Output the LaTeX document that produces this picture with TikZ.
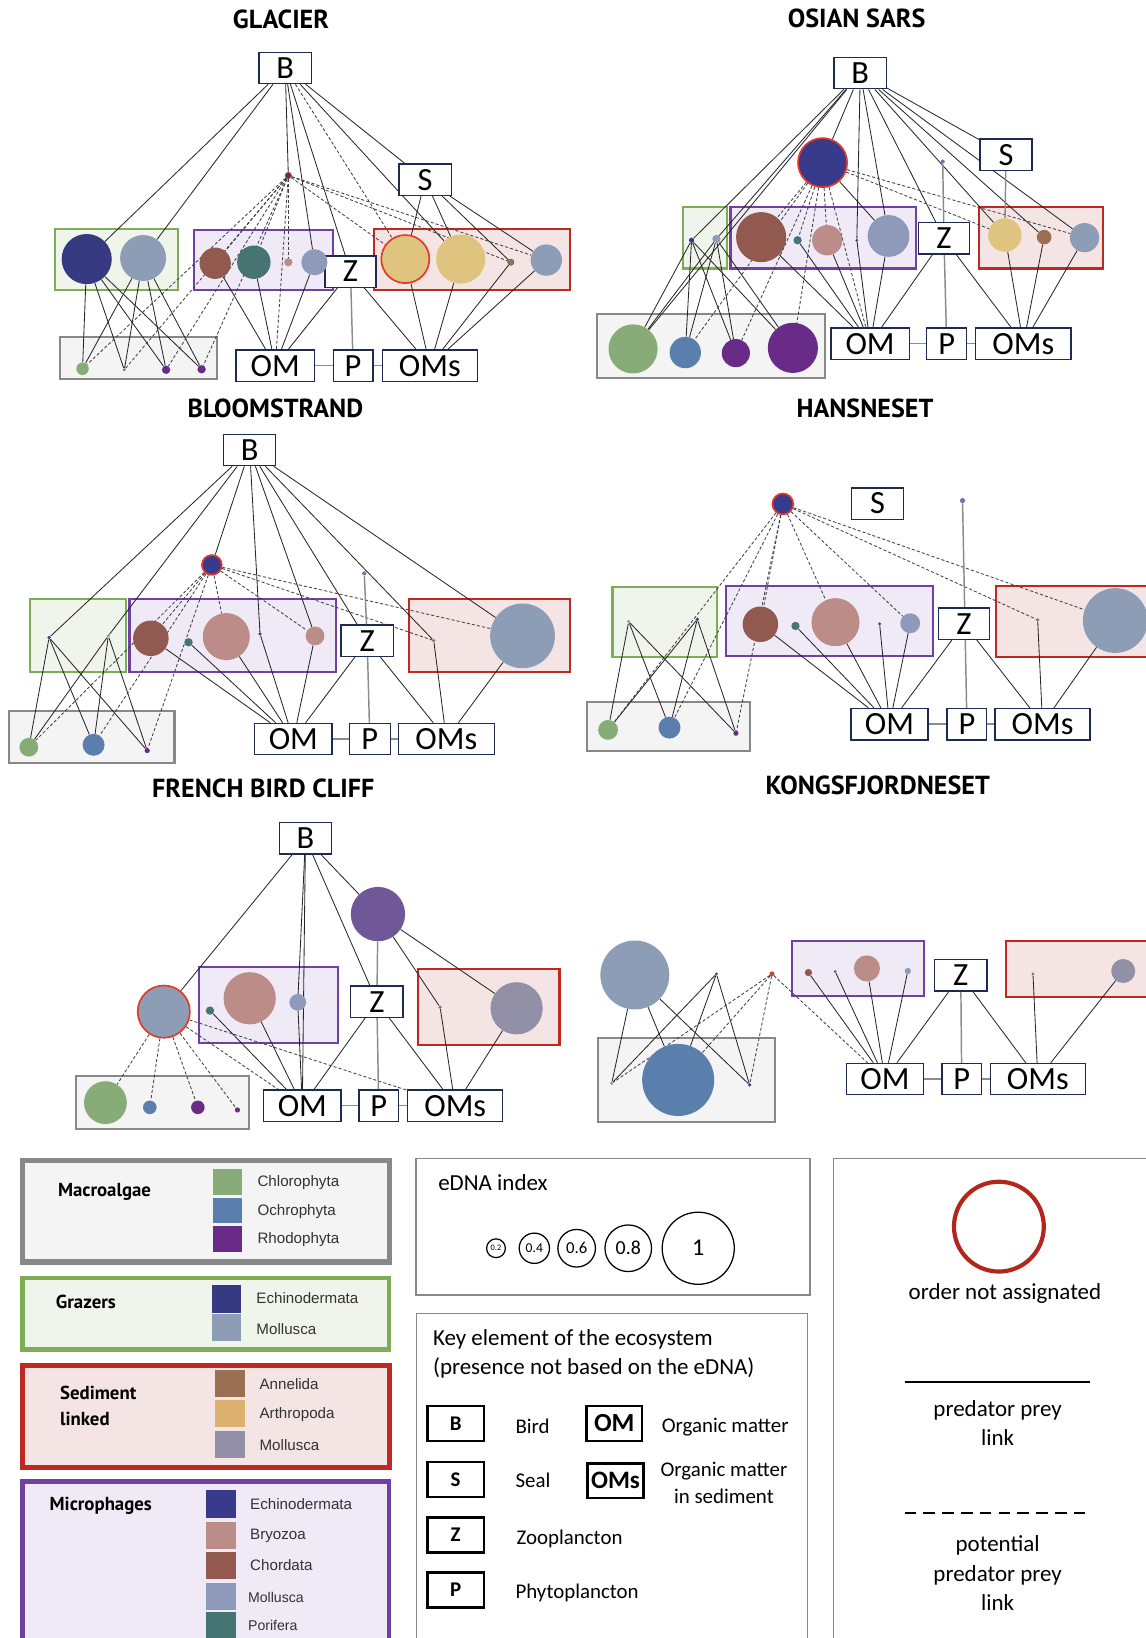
\documentclass[tikz,border=0pt]{standalone}
\usepackage{fontspec}
\setmainfont{Carlito}
\newfontfamily\titlefont{PT Sans}
\newfontfamily\arialfont{Liberation Sans}

\definecolor{chloro}{HTML}{88AC78}
\definecolor{ochro}{HTML}{5A7FAD}
\definecolor{rhodo}{HTML}{682C88}
\definecolor{gechino}{HTML}{363A80}
\definecolor{gmollu}{HTML}{8E9DB6}
\definecolor{annel}{HTML}{9A7053}
\definecolor{arthro}{HTML}{DEC47E}
\definecolor{larthro}{HTML}{DDB26E}
\definecolor{smollu}{HTML}{9290A6}
\definecolor{mechino}{HTML}{383A8C}
\definecolor{bryo}{HTML}{BC8C88}
\definecolor{chord}{HTML}{925A4E}
\definecolor{mmollu}{HTML}{8D9ABA}
\definecolor{porif}{HTML}{467472}
\definecolor{fbpurple}{HTML}{705898}
\definecolor{dotpurple}{HTML}{7F6DB5}
\definecolor{navy}{HTML}{1E2B4F}
\definecolor{ringred}{HTML}{E5392B}
\definecolor{legred}{HTML}{B3261C}
\definecolor{grayline}{HTML}{888888}
\definecolor{grayfill}{HTML}{F4F4F4}
\definecolor{grnline}{HTML}{7DAE55}
\definecolor{grnfill}{HTML}{F0F5EC}
\definecolor{redline}{HTML}{BE2A22}
\definecolor{redfill}{HTML}{F5E4E4}
\definecolor{purline}{HTML}{7040A2}
\definecolor{purfill}{HTML}{EFEAF5}

\pgfdeclarelayer{grp}
\pgfdeclarelayer{edges}
\pgfsetlayers{grp,edges,main}

\tikzset{
  ttl/.style={font=\titlefont\bfseries\fontsize{25}{25}\selectfont},
  key/.style={draw=navy, line width=1.3pt, fill=white, inner sep=0pt,
    minimum height=30pt, font=\fontsize{31}{31}\selectfont},
  kb/.style={key, minimum width=50pt},
  kom/.style={key, minimum width=75pt},
  kp/.style={key, minimum width=38pt},
  koms/.style={key, minimum width=91pt},
  sp/.style={circle, inner sep=0pt, minimum size=#1pt},
  ring/.style={draw=ringred, line width=1.6pt},
  tring/.style={draw=ringred, line width=0.8pt},
  link/.style={line width=0.8pt, black!85},
  plink/.style={line width=0.8pt, black!75, dash pattern=on 3pt off 2pt},
  glink/.style={line width=1.4pt, black!45},
  algae/.style={draw=grayline, fill=grayfill, line width=2pt},
  grazer/.style={draw=grnline, fill=grnfill, line width=2pt},
  sedim/.style={draw=redline, fill=redfill, line width=2pt},
  microph/.style={draw=purline, fill=purfill, line width=2pt},
  grpname/.style={font=\titlefont\bfseries\fontsize{18}{25}\selectfont, anchor=west},
  sname/.style={font=\arialfont\fontsize{14.5}{14.5}\selectfont, anchor=west, text=black!80},
  ltxt/.style={font=\fontsize{20}{25}\selectfont},
  lkey/.style={draw=black, line width=2.5pt, inner sep=0pt, minimum width=54pt,
    minimum height=33.5pt, font=\bfseries\fontsize{20}{20}\selectfont},
  ednac/.style={circle, draw=black, line width=1.2pt, inner sep=0pt}
}

\begin{document}
\begin{tikzpicture}[x=1pt,y=-1pt]
\useasboundingbox (0,0) rectangle (1097,1568);

% ---------------- GLACIER
\node[ttl] (tA) at (269,19) {GLACIER};
\begin{pgfonlayer}{grp}
  \draw[grazer] (53,219) rectangle (170,278);
  \draw[microph] (186,220) rectangle (319,278);
  \draw[sedim] (358,219) rectangle (546,278);
  \draw[algae] (57,323) rectangle (208,363);
\end{pgfonlayer}
\node[kb] (aB) at (273,65) {B};
\node[kb] (aS) at (407,172) {S};
\node[kb, minimum width=49pt] (aZ) at (335.5,260) {Z};
\node[kom] (aOM) at (263.5,350) {OM};
\node[kp] (aP) at (338,350) {P};
\node[koms] (aOMs) at (411.5,350) {OMs};
\node[sp=6, fill=gechino, tring] (aX) at (276,168) {};
\node[sp=48, fill=gechino] (aG1) at (83,248) {};
\node[sp=44, fill=gmollu] (aG2) at (137,247) {};
\node[sp=30, fill=chord] (aM1) at (206,252) {};
\node[sp=32, fill=porif] (aM2) at (243,251) {};
\node[sp=8, fill=bryo] (aM3) at (276,251) {};
\node[sp=25, fill=mmollu] (aM4) at (301,251) {};
\node[sp=46, fill=arthro, ring] (aS1) at (388,248) {};
\node[sp=47, fill=arthro] (aS2) at (441,248) {};
\node[sp=6, fill=annel, draw=black!70, line width=0.4pt] (aS3) at (489,251) {};
\node[sp=30, fill=gmollu] (aS4) at (523,249) {};
\node[sp=12, fill=chloro] (aA1) at (79,353) {};
\node[sp=3, fill=ochro] (aA2) at (119,354) {};
\node[sp=8, fill=rhodo] (aA3) at (159,354) {};
\node[sp=8, fill=rhodo] (aA4) at (193,353.5) {};
\begin{pgfonlayer}{edges}
  \foreach \u/\v in {aB/aG1, aB/aG2, aB/aX, aB/aM4, aB/aZ, aB/aS2, aB/aS,
      aS/aS1, aS/aS2, aS/aS3, aS/aS4,
      aG1/aA1, aG1/aA2, aG1/aA3, aG1/aA4, aG2/aA1, aG2/aA2, aG2/aA3, aG2/aA4,
      aM1/aOM, aM2/aOM, aM4/aOM, aZ/aOM, aZ/aOMs,
      aS1/aOMs, aS2/aOMs, aS3/aOMs, aS4/aOMs}
    \draw[link] (\u) -- (\v);
  \foreach \u/\v in {aB/aS1, aX/aA1, aX/aA2, aX/aA3, aX/aA4, aX/aM1, aX/aM2,
      aX/aM3, aX/aOM, aX/aS1, aX/aS3, aX/aS4}
    \draw[plink] (\u) -- (\v);
  \foreach \u/\v in {aOM/aP, aP/aOMs, aZ/aP}
    \draw[glink] (\u) -- (\v);
\end{pgfonlayer}

% ---------------- OSIAN SARS
\node[ttl] (tB) at (820,17.5) {OSIAN SARS};
\begin{pgfonlayer}{grp}
  \draw[grazer] (653.7,197.8) rectangle (696.2,257);
  \draw[microph] (699.3,198.4) rectangle (876.5,257);
  \draw[sedim] (937,198) rectangle (1056.2,257);
  \draw[algae] (571.8,301) rectangle (790.1,362);
\end{pgfonlayer}
\node[kb] (bB) at (823.5,70) {B};
\node[kb] (bS) at (963,148) {S};
\node[kb, minimum width=49pt] (bZ) at (903.6,228) {Z};
\node[kom] (bOM) at (832.9,329) {OM};
\node[kp] (bP) at (906.2,329) {P};
\node[koms] (bOMs) at (979.6,329) {OMs};
\node[sp=47, fill=mechino, ring] (bX) at (787.4,155.7) {};
\node[sp=4, fill=dotpurple] (bD) at (902.4,154.7) {};
\node[sp=5, fill=gechino] (bG1) at (662,230) {};
\node[sp=8, fill=gmollu] (bG2) at (685.8,228.7) {};
\node[sp=48, fill=chord] (bM1) at (728.6,227) {};
\node[sp=8, fill=porif] (bM2) at (763.5,230) {};
\node[sp=29, fill=bryo] (bM3) at (791.9,230) {};
\node[sp=3, fill=mechino] (bM4) at (820.2,230) {};
\node[sp=40, fill=mmollu] (bM5) at (850.6,225.9) {};
\node[sp=32, fill=arthro] (bS1) at (961.9,225) {};
\node[sp=14, fill=annel] (bS2) at (999.5,227) {};
\node[sp=28, fill=gmollu] (bS3) at (1038.2,227.5) {};
\node[sp=47, fill=chloro] (bA1) at (606,334) {};
\node[sp=30, fill=ochro] (bA2) at (656,337.5) {};
\node[sp=27, fill=rhodo] (bA3) at (704.4,338) {};
\node[sp=48, fill=rhodo] (bA4) at (759,333) {};
\begin{pgfonlayer}{edges}
  \foreach \u/\v in {bB/bA1, bB/bG1, bB/bG2, bB/bX, bB/bM4, bB/bM5, bB/bZ,
      bB/bS, bB/bS1, bB/bS2, bB/bS3, bX/bM5,
      bG1/bA1, bG1/bA2, bG1/bA3, bG1/bA4, bG2/bA1, bG2/bA2, bG2/bA3, bG2/bA4,
      bM1/bOM, bM2/bOM, bM3/bOM, bM4/bOM, bM5/bOM, bZ/bOM, bZ/bOMs,
      bS1/bOMs, bS2/bOMs, bS3/bOMs}
    \draw[link] (\u) -- (\v);
  \foreach \u/\v in {bX/bM1, bX/bM2, bX/bM3, bX/bA2, bX/bA3, bX/bA4, bX/bOM,
      bX/bS1, bX/bS3}
    \draw[plink] (\u) -- (\v);
  \foreach \u/\v in {bOM/bP, bP/bOMs, bZ/bP, bD/bZ, bS/bS1}
    \draw[glink] (\u) -- (\v);
\end{pgfonlayer}

% ---------------- BLOOMSTRAND
\node[ttl] (tC) at (263.7,390.8) {BLOOMSTRAND};
\begin{pgfonlayer}{grp}
  \draw[grazer] (28.3,573.6) rectangle (121,643.2);
  \draw[microph] (124,573.6) rectangle (322,643.2);
  \draw[sedim] (391.2,573.6) rectangle (545.2,643.5);
  \draw[algae] (8.9,680.2) rectangle (167,730.6);
\end{pgfonlayer}
\node[kb] (cB) at (239,430.7) {B};
\node[kb] (cZ) at (351.5,613.3) {Z};
\node[kom, minimum width=74pt] (cOM) at (280.8,707.5) {OM};
\node[kp, minimum width=39pt] (cP) at (354,707.5) {P};
\node[koms, minimum width=92pt] (cOMs) at (427.3,707.5) {OMs};
\node[sp=19, fill=mechino, ring] (cX) at (202.8,540.8) {};
\node[sp=4, fill=dotpurple] (cD) at (348.7,548.8) {};
\node[sp=3.5, fill=gechino] (cG1) at (47,610.3) {};
\node[sp=3.5, fill=gmollu] (cG2) at (103.7,608.7) {};
\node[sp=34, fill=chord] (cM1) at (144.4,611) {};
\node[sp=8, fill=porif] (cM2) at (180.5,614.8) {};
\node[sp=45, fill=bryo] (cM3) at (216.6,609.4) {};
\node[sp=3.5, fill=mechino] (cM4) at (248.9,606.8) {};
\node[sp=18, fill=bryo] (cM5) at (301.6,608.7) {};
\node[sp=3.5, fill=annel] (cS1) at (415.2,613.2) {};
\node[sp=62, fill=gmollu] (cS2) at (500.2,608.7) {};
\node[sp=18, fill=chloro] (cA1) at (27.6,715.3) {};
\node[sp=21, fill=ochro] (cA2) at (89.6,713) {};
\node[sp=5, fill=rhodo] (cA3) at (140.9,718.5) {};
\begin{pgfonlayer}{edges}
  \foreach \u/\v in {cB/cG1, cB/cG2, cB/cX, cB/cM4, cB/cM5, cB/cZ, cB/cS1, cB/cS2,
      cG1/cA1, cG1/cA2, cG1/cA3, cG2/cA1, cG2/cA2, cG2/cA3,
      cM1/cOM, cM2/cOM, cM3/cOM, cM4/cOM, cM5/cOM, cZ/cOM, cZ/cOMs,
      cS1/cOMs, cS2/cOMs}
    \draw[link] (\u) -- (\v);
  \foreach \u/\v in {cX/cA1, cX/cA2, cX/cA3, cX/cM1, cX/cM3, cX/cM5, cX/cS1, cX/cS2}
    \draw[plink] (\u) -- (\v);
  \foreach \u/\v in {cOM/cP, cP/cOMs, cZ/cP, cD/cZ}
    \draw[glink] (\u) -- (\v);
\end{pgfonlayer}

% ---------------- HANSNESET
\node[ttl] (tD) at (828,391) {HANSNESET};
\begin{pgfonlayer}{grp}
  \draw[grazer] (586.3,561.5) rectangle (686.5,629);
  \draw[microph] (695.1,560.9) rectangle (893.1,627.9);
  \draw[sedim] (953.6,560.9) rectangle (1105,628.5);
  \draw[algae] (562.1,671.6) rectangle (717.6,718.8);
\end{pgfonlayer}
\node[kb] (dS) at (840,482) {S};
\node[kb, minimum width=49pt] (dZ) at (922.8,597) {Z};
\node[kom, minimum width=74pt] (dOM) at (851.5,693.2) {OM};
\node[kp] (dP) at (925.6,693.2) {P};
\node[koms] (dOMs) at (998,693.2) {OMs};
\node[sp=20, fill=mechino, ring] (dX) at (749.4,482.4) {};
\node[sp=5, fill=dotpurple] (dD) at (921.4,479.2) {};
\node[sp=3.5, fill=gmollu] (dG1) at (601.8,595) {};
\node[sp=3.5, fill=gechino] (dG2) at (667.5,592.8) {};
\node[sp=34, fill=chord] (dM1) at (727.9,597.6) {};
\node[sp=8, fill=porif] (dM2) at (761.5,599.2) {};
\node[sp=46, fill=bryo] (dM3) at (799.8,595.6) {};
\node[sp=3, fill=mechino] (dM4) at (842,597.2) {};
\node[sp=19, fill=mmollu] (dM5) at (871.3,596.6) {};
\node[sp=3.5, fill=annel] (dS1) at (993.3,593.4) {};
\node[sp=62, fill=gmollu] (dS2) at (1067.6,594) {};
\node[sp=19, fill=chloro] (dA1) at (582.1,698.7) {};
\node[sp=21, fill=ochro] (dA2) at (640.9,696.5) {};
\node[sp=5, fill=rhodo] (dA3) at (704.5,701.9) {};
\begin{pgfonlayer}{edges}
  \foreach \u/\v in {dG1/dA1, dG1/dA2, dG1/dA3, dG2/dA1, dG2/dA2, dG2/dA3,
      dM1/dOM, dM2/dOM, dM3/dOM, dM4/dOM, dM5/dOM, dZ/dOM, dZ/dOMs,
      dS1/dOMs, dS2/dOMs}
    \draw[link] (\u) -- (\v);
  \foreach \u/\v in {dX/dA1, dX/dA2, dX/dA3, dX/dM1, dX/dM3, dX/dM5, dX/dS1, dX/dS2}
    \draw[plink] (\u) -- (\v);
  \foreach \u/\v in {dOM/dP, dP/dOMs, dD/dP}
    \draw[glink] (\u) -- (\v);
\end{pgfonlayer}

% ---------------- FRENCH BIRD CLIFF
\node[ttl] (tE) at (252,754.6) {FRENCH BIRD CLIFF};
\begin{pgfonlayer}{grp}
  \draw[microph] (190.5,926) rectangle (323.9,998.7);
  \draw[sedim] (400,927.9) rectangle (535.6,1000.3);
  \draw[algae] (72.6,1029.6) rectangle (238.2,1080.7);
\end{pgfonlayer}
\node[kb] (eB) at (292.4,802.5) {B};
\node[kb] (eZ) at (360.8,958.8) {Z};
\node[kom, minimum width=74pt] (eOM) at (289.4,1058.5) {OM};
\node[kp] (eP) at (362.5,1058.5) {P};
\node[koms] (eOMs) at (435.8,1058.5) {OMs};
\node[sp=50, fill=gmollu, ring] (eX) at (156.8,968.4) {};
\node[sp=52, fill=fbpurple] (eR) at (361.8,875) {};
\node[sp=8, fill=porif] (eM1) at (201,967.4) {};
\node[sp=50, fill=bryo] (eM2) at (239,955.6) {};
\node[sp=16, fill=mmollu] (eM3) at (285,959.5) {};
\node[sp=3.5, fill=annel] (eS1) at (421.3,964.2) {};
\node[sp=50, fill=smollu] (eS2) at (494.5,965.2) {};
\node[sp=41, fill=chloro] (eA1) at (100.9,1055.5) {};
\node[sp=13, fill=ochro] (eA2) at (143.4,1060) {};
\node[sp=13, fill=rhodo] (eA3) at (189.4,1060) {};
\node[sp=5, fill=rhodo] (eA4) at (227.3,1062.5) {};
\begin{pgfonlayer}{edges}
  \foreach \u/\v in {eB/eX, eB/eM3, eB/eOM, eB/eZ, eB/eR, eR/eS1, eR/eS2,
      eM1/eOM, eM2/eOM, eM3/eOM, eZ/eOM, eZ/eOMs, eS1/eOMs, eS2/eOMs}
    \draw[link] (\u) -- (\v);
  \foreach \u/\v in {eX/eA1, eX/eA2, eX/eA3, eX/eA4, eX/eOM, eX/eOMs}
    \draw[plink] (\u) -- (\v);
  \foreach \u/\v in {eOM/eP, eP/eOMs, eZ/eP, eR/eZ}
    \draw[glink] (\u) -- (\v);
\end{pgfonlayer}

% ---------------- KONGSFJORDNESET
\node[ttl] (tF) at (840.2,751.5) {KONGSFJORDNESET};
\begin{pgfonlayer}{grp}
  \draw[algae] (572.5,993.3) rectangle (741.8,1074.3);
  \draw[microph] (758.4,900.4) rectangle (884.5,953.4);
  \draw[sedim] (962.9,900.4) rectangle (1105,954);
\end{pgfonlayer}
\node[kb] (fZ) at (919.7,933.5) {Z};
\node[kom, minimum width=74pt] (fOM) at (847.2,1033) {OM};
\node[kp] (fP) at (920.6,1033) {P};
\node[koms] (fOMs) at (993.5,1033) {OMs};
\node[sp=66, fill=gmollu] (fG1) at (607.7,933.3) {};
\node[sp=3, fill=gechino] (fG2) at (685.8,932.3) {};
\node[sp=4, fill=chord, tring] (fX) at (739,932.3) {};
\node[sp=3.5, fill=chloro] (fA1) at (585.6,1037) {};
\node[sp=69, fill=ochro] (fA2) at (649.2,1033.8) {};
\node[sp=3.5, fill=rhodo] (fA3) at (717.6,1038.5) {};
\node[sp=7, fill=chord] (fM1) at (773.9,931) {};
\node[sp=3, fill=porif] (fM2) at (799.5,930) {};
\node[sp=25, fill=bryo] (fM3) at (829.9,927) {};
\node[sp=6, fill=mmollu] (fM4) at (869,929.5) {};
\node[sp=3, fill=annel] (fS1) at (988.8,932.3) {};
\node[sp=23, fill=smollu] (fS2) at (1075.2,929.5) {};
\begin{pgfonlayer}{edges}
  \foreach \u/\v in {fG1/fA1, fG1/fA2, fG1/fA3, fG2/fA1, fG2/fA2, fG2/fA3,
      fM1/fOM, fM2/fOM, fM3/fOM, fM4/fOM, fZ/fOM, fZ/fOMs, fS1/fOMs, fS2/fOMs}
    \draw[link] (\u) -- (\v);
  \foreach \u/\v in {fX/fA1, fX/fA2, fX/fA3, fX/fOM}
    \draw[plink] (\u) -- (\v);
  \foreach \u/\v in {fOM/fP, fP/fOMs, fZ/fP}
    \draw[glink] (\u) -- (\v);
\end{pgfonlayer}

% ---------------- legend: groups
\draw[algae, line width=5pt] (21.5,1111) rectangle (372.5,1208);
\node[grpname] (lMac) at (52,1141) {Macroalgae};
\fill[chloro] (204,1119.3) rectangle (232,1143.9);
\fill[ochro] (204,1147) rectangle (232,1171);
\fill[rhodo] (204,1174) rectangle (232,1198.4);
\node[sname] (lChl) at (243,1132) {Chlorophyta};
\node[sname] (lOch) at (243,1160) {Ochrophyta};
\node[sname] (lRho) at (243,1187) {Rhodophyta};

\draw[grazer, line width=4.5pt] (21.5,1223.5) rectangle (372.5,1291.8);
\node[grpname] (lGra) at (50,1246) {Grazers};
\fill[gechino] (203,1230) rectangle (231,1256.5);
\fill[gmollu] (203,1258) rectangle (231,1284);
\node[sname] (lGEc) at (242,1243) {Echinodermata};
\node[sname] (lGMo) at (242,1272) {Mollusca};

\draw[sedim, line width=5pt] (21.5,1307.4) rectangle (372.5,1404.8);
\node[grpname, align=left] (lSed) at (54,1345.5) {Sediment\\linked};
\fill[annel] (205.8,1311.3) rectangle (234.5,1337.5);
\fill[larthro] (205.8,1340) rectangle (234.5,1365.6);
\fill[smollu] (205.8,1369.4) rectangle (234.5,1395.9);
\node[sname] (lAnn) at (245,1325) {Annelida};
\node[sname] (lArt) at (245,1354) {Arthropoda};
\node[sname] (lSMo) at (245,1383.5) {Mollusca};

\draw[microph, line width=4.5pt] (21.5,1418.2) rectangle (372.5,1600);
\node[grpname] (lMic) at (44,1441) {Microphages};
\fill[mechino] (197,1426) rectangle (226,1453.3);
\fill[bryo] (197,1457) rectangle (226,1483);
\fill[chord] (197,1486) rectangle (226,1511.7);
\fill[mmollu] (197,1515) rectangle (226,1541);
\fill[porif] (197,1543) rectangle (226,1570);
\node[sname] (lMEc) at (236,1440) {Echinodermata};
\node[sname] (lBry) at (236,1470) {Bryozoa};
\node[sname] (lCho) at (236,1498.5) {Chordata};
\node[sname, font=\arialfont\fontsize{13.5}{13.5}\selectfont] (lMMo) at (234,1529) {Mollusca};
\node[sname, font=\arialfont\fontsize{13.5}{13.5}\selectfont] (lPor) at (234,1555.5) {Porifera};

% ---------------- legend: eDNA index
\draw[grayline, line width=1.2pt] (398.2,1108.8) rectangle (775.3,1239.6);
\node[font=\fontsize{22}{22}\selectfont, anchor=west] (lEdna) at (416,1132) {eDNA index};
\node[ednac, minimum size=18pt, font=\fontsize{8}{8}\selectfont] (e02) at (474.8,1194.9) {0.2};
\node[ednac, minimum size=29pt, font=\fontsize{13}{13}\selectfont] (e04) at (511.5,1194.9) {0.4};
\node[ednac, minimum size=36pt, font=\fontsize{16}{16}\selectfont] (e06) at (552,1194.9) {0.6};
\node[ednac, minimum size=44.6pt, font=\fontsize{19}{19}\selectfont] (e08) at (601.4,1194.9) {0.8};
\node[ednac, minimum size=69pt, font=\fontsize{23}{23}\selectfont] (e10) at (668.4,1194.9) {1};

% ---------------- legend: key elements
\draw[grayline, line width=1.2pt] (398.8,1257) rectangle (772.7,1600);
\node[font=\fontsize{22}{28}\selectfont, anchor=west, align=left] (lKey) at (411,1296)
  {Key element of the ecosystem\\(presence not based on the eDNA)};
\node[lkey] (kB) at (436.2,1362.5) {B};
\node[lkey] (kS) at (436.2,1416.2) {S};
\node[lkey] (kZ) at (436.2,1469.5) {Z};
\node[lkey] (kP) at (436.2,1522) {P};
\node[lkey, minimum width=53pt, font=\bfseries\fontsize{25}{25}\selectfont] (kOM) at (588,1362.5) {OM};
\node[lkey, minimum width=54pt, font=\bfseries\fontsize{24}{24}\selectfont] (kOMs) at (589.2,1417.4) {OMs};
\node[ltxt, anchor=west] (lBird) at (490,1365) {Bird};
\node[ltxt, anchor=west] (lSeal) at (490,1417) {Seal};
\node[ltxt, anchor=west] (lZoo) at (491,1473) {Zooplancton};
\node[ltxt, anchor=west] (lPhy) at (490,1525) {Phytoplancton};
\node[ltxt, anchor=west] (lOM) at (630,1366) {Organic matter};
\node[ltxt, align=center] (lOMs) at (693,1419.5) {Organic matter\\in sediment};

% ---------------- legend: ring and links
\draw[grayline, line width=1.2pt] (797.7,1108.8) rectangle (1120,1600);
\node[circle, draw=legred, line width=4pt, minimum size=86pt] (lRing) at (956.2,1174.2) {};
\node[font=\fontsize{22}{22}\selectfont] (lOrd) at (962,1238) {order not assignated};
\coordinate (pl1) at (866,1322.5);
\coordinate (pl2) at (1043.3,1322.5);
\draw[line width=2pt] (pl1) -- (pl2);
\node[font=\fontsize{22}{28}\selectfont, align=center] (lPred) at (955,1362) {predator prey\\link};
\coordinate (ppl1) at (866,1448.5);
\coordinate (ppl2) at (1045,1448.5);
\draw[line width=2pt, dash pattern=on 11pt off 7pt] (ppl1) -- (ppl2);
\node[font=\fontsize{22}{28}\selectfont, align=center] (lPot) at (955,1506) {potential\\predator prey\\link};
\end{tikzpicture}
\end{document}
